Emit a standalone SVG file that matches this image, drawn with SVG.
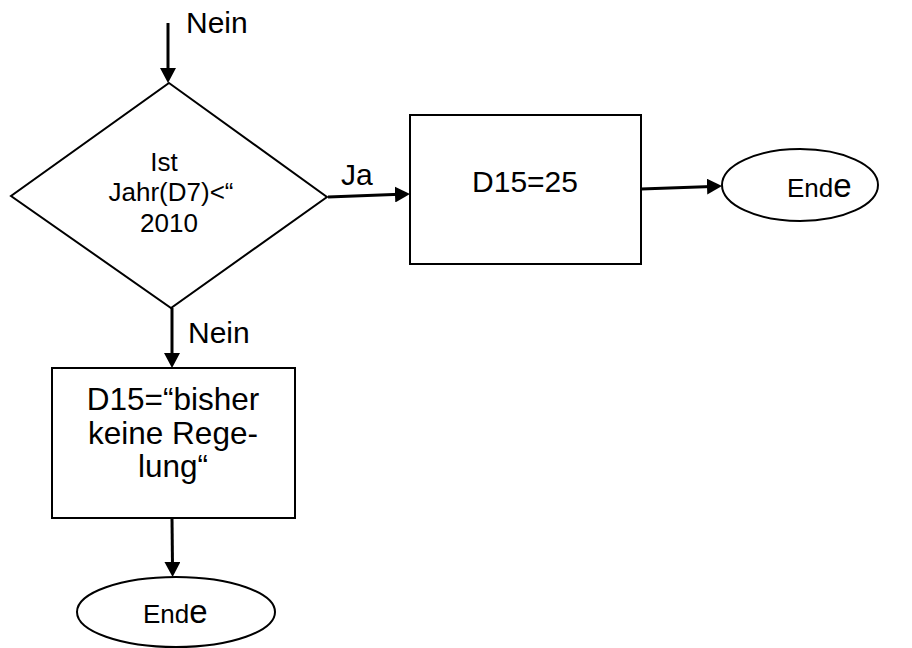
<svg xmlns="http://www.w3.org/2000/svg" width="912" height="648" viewBox="0 0 912 648">
<style>
.shape{fill:#fff;stroke:#000;stroke-width:2}
.conn{stroke:#000;stroke-width:3;fill:none;marker-end:url(#arrow)}
text{font-family:"Liberation Sans",Arial,sans-serif;fill:#000}
.lbl{font-size:30px}
.dt{font-size:26px;text-anchor:middle}
.bt{font-size:30px;text-anchor:middle}
.bt2{font-size:31.5px;text-anchor:middle}
.et{font-size:26px}
</style>
<defs>
<marker id="arrow" markerUnits="userSpaceOnUse" markerWidth="16" markerHeight="16" refX="5" refY="8" orient="auto" viewBox="0 0 16 16">
<path d="M0,0 L15,8 L0,16 Z" fill="#000"/>
</marker>
</defs>
<rect width="912" height="648" fill="#fff"/>
<g id="decision">
<polygon class="shape" points="169,83 327,197 171,308 11,196"/>
<text class="dt" x="164" y="171">Ist</text>
<text class="dt" x="171" y="201">Jahr(D7)&lt;“</text>
<text class="dt" x="169" y="232">2010</text>
</g>
<g id="box-yes">
<rect class="shape" x="410" y="115" width="231" height="149"/>
<text class="bt" x="525" y="192">D15=25</text>
</g>
<g id="end-right">
<ellipse class="shape" cx="800" cy="185" rx="78" ry="36"/>
<text class="et" x="787" y="197">End<tspan font-size="33">e</tspan></text>
</g>
<g id="box-no">
<rect class="shape" x="52" y="368" width="243" height="150"/>
<text class="bt2" x="173" y="410">D15=“bisher</text>
<text class="bt2" x="173" y="444">keine Rege-</text>
<text class="bt2" x="173" y="477">lung“</text>
</g>
<g id="end-bottom">
<ellipse class="shape" cx="176" cy="612" rx="99" ry="35"/>
<text class="et" x="143" y="623">End<tspan font-size="33">e</tspan></text>
</g>
<g id="connectors">
<line class="conn" x1="168" y1="23" x2="168" y2="73"/>
<line class="conn" x1="328" y1="197" x2="400" y2="194.3"/>
<line class="conn" x1="641" y1="189" x2="712" y2="186.4"/>
<line class="conn" x1="172" y1="308" x2="172" y2="358"/>
<line class="conn" x1="172" y1="518" x2="172.5" y2="567"/>
<text class="lbl" x="186" y="33">Nein</text>
<text class="lbl" x="341" y="185">Ja</text>
<text class="lbl" x="188" y="343">Nein</text>
</g>
</svg>
